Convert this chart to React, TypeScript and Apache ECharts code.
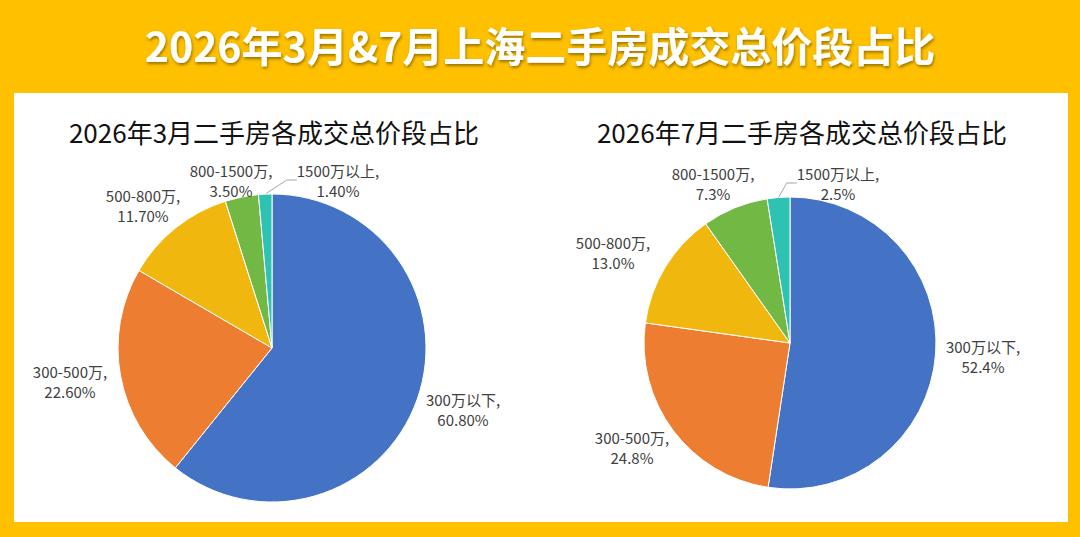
import React, { useEffect, useRef } from "react";
import * as echarts from "echarts";

const categories = ["300万以下", "300-500万", "500-800万", "800-1500万", "1500万以上"];
const marchValues = [60.8, 22.6, 11.7, 3.5, 1.4];
const julyValues = [52.4, 24.8, 13.0, 7.3, 2.5];
const colors = ["#4472C4", "#ED7D31", "#F0B70F", "#72B844", "#2EC2B3"];

const mainTitle = "2026年3月&7月上海二手房成交总价段占比";
const marchTitle = "2026年3月二手房各成交总价段占比";
const julyTitle = "2026年7月二手房各成交总价段占比";

// label centre positions (layout, px)
const marchLabelPos = [
  [463, 409],
  [70, 381],
  [143, 205],
  [231, 180],
  [338, 180],
];
const julyLabelPos = [
  [983, 356],
  [632, 447],
  [613, 252],
  [713, 183],
  [838, 183],
];

function buildData(values: number[]) {
  return categories.map((name, i) => ({
    name,
    value: values[i],
    itemStyle: { color: colors[i] },
    labelLine: { show: i === 4 },
  }));
}

export default function App() {
  const ref = useRef<HTMLDivElement>(null);
  useEffect(() => {
    if (!ref.current) return;
    const chart = echarts.init(ref.current, null, { renderer: "svg" });
    const labelStyle = {
      show: true,
      position: "outside",
      color: "#404040",
      fontSize: 15,
      lineHeight: 20,
      fontFamily: "Noto Sans CJK SC",
      align: "center",
    };
    const makeLayout = (pos: number[][]) => (params: any) => {
      const p = pos[params.dataIndex];
      return { x: p[0], y: p[1], align: "center", verticalAlign: "middle" };
    };
    chart.setOption({
      animation: false,
      backgroundColor: "#FFC000",
      graphic: [
        {
          type: "rect",
          shape: { x: 14, y: 93, width: 1054, height: 429 },
          style: { fill: "#FFFFFF" },
          z: -10,
        },
        {
          type: "text",
          x: 540,
          y: 44,
          style: {
            text: mainTitle,
            fill: "#FFFFFF",
            font: "bold 41px 'Noto Sans CJK SC'",
            textAlign: "center",
            textVerticalAlign: "middle",
            textShadowColor: "rgba(0,0,0,0.4)",
            textShadowBlur: 3,
            textShadowOffsetX: 1,
            textShadowOffsetY: 2,
          } as any,
        },
        {
          type: "text",
          x: 274,
          y: 131,
          style: {
            text: marchTitle,
            fill: "#111111",
            font: "26px 'Noto Sans CJK SC'",
            textAlign: "center",
            textVerticalAlign: "middle",
          },
        },
        {
          type: "text",
          x: 802,
          y: 131,
          style: {
            text: julyTitle,
            fill: "#111111",
            font: "26px 'Noto Sans CJK SC'",
            textAlign: "center",
            textVerticalAlign: "middle",
          },
        },
      ],
      series: [
        {
          type: "pie",
          center: [272, 348],
          radius: 154,
          startAngle: 90,
          clockwise: true,
          itemStyle: { borderColor: "#FFFFFF", borderWidth: 1 },
          label: {
            ...labelStyle,
            formatter: (p: any) => `${p.name},\n${p.value.toFixed(2)}%`,
          },
          labelLine: { show: true, length: 8, length2: 10, lineStyle: { color: "#A6A6A6", width: 1 } },
          labelLayout: makeLayout(marchLabelPos),
          data: buildData(marchValues),
        },
        {
          type: "pie",
          center: [790, 343],
          radius: 146,
          startAngle: 90,
          clockwise: true,
          itemStyle: { borderColor: "#FFFFFF", borderWidth: 1 },
          label: {
            ...labelStyle,
            formatter: (p: any) => `${p.name},\n${p.value.toFixed(1)}%`,
          },
          labelLine: { show: true, length: 8, length2: 10, lineStyle: { color: "#A6A6A6", width: 1 } },
          labelLayout: makeLayout(julyLabelPos),
          data: buildData(julyValues),
        },
      ],
    } as any);
    return () => chart.dispose();
  }, []);
  return (
    <div
      ref={ref}
      style={{ position: "fixed", left: 0, top: 0, width: 1080, height: 537 }}
    />
  );
}
